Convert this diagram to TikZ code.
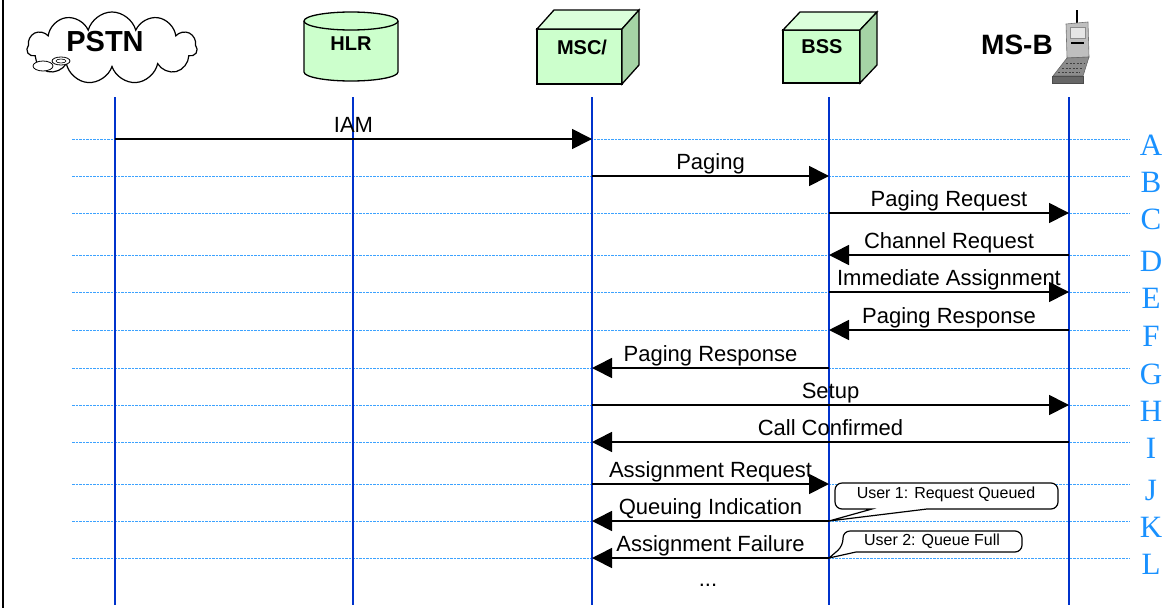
\documentclass[tikz,border=0pt]{standalone}
\usepackage{fontspec}
\setmainfont{Liberation Sans}
\newfontfamily\rowfont{Liberation Serif}
\usetikzlibrary{arrows.meta,shapes.symbols}
\definecolor{lifeblue}{RGB}{0,51,204}
\definecolor{rowblue}{RGB}{25,145,255}
\definecolor{boxgreen}{RGB}{204,255,204}
\definecolor{sidegreen}{RGB}{165,212,165}

\begin{document}
\begin{tikzpicture}[x=1pt,y=-1pt,
		lifeline/.style={line width=1.6pt, color=lifeblue},
		rowline/.style={line width=0.9pt, color=rowblue!85, dash pattern=on 2.5pt off 1pt},
		rowlbl/.style={font=\rowfont\fontsize{31}{33}\selectfont, color=rowblue, inner sep=0pt},
		msg/.style={line width=1.7pt, -{Triangle[length=20pt,width=20pt]}},
		lbl/.style={font=\fontsize{22}{24}\selectfont, midway, anchor=base, yshift=7pt, inner sep=0pt},
		head/.style={font=\bfseries\fontsize{20}{22}\selectfont, inner sep=0pt},
		callout/.style={line width=1.2pt, fill=white},
		calltxt/.style={font=\fontsize{16}{18}\selectfont, inner sep=0pt}]
			%%%%% START %%%%%
			
			\useasboundingbox (0,0) rectangle (1166,608);
			\draw[line width=1.6pt] (3,0) -- (3,608);
			
			%%%%% HEADER %%%%%
			
			\node[cloud, cloud puffs=11, aspect=2.4, draw, line width=1.2pt, minimum width=170pt, minimum height=72pt] (cloud) at (112,48) {};
			\draw[line width=0.8pt, fill=white] (43,66) ellipse [x radius=10, y radius=5];
			\draw[line width=0.8pt, fill=white] (61,61) ellipse [x radius=9, y radius=4];
			\draw[line width=0.6pt] (61,61) ellipse [x radius=5, y radius=2];
			\node[head, font=\bfseries\fontsize{29}{31}\selectfont] (pstn) at (105,42) {PSTN};
			
			\fill[boxgreen] (304,21) -- (304,72) arc[start angle=180, end angle=0, x radius=47, y radius=9] -- (398,21) -- cycle;
			\draw[line width=1.3pt] (304,21) -- (304,72) arc[start angle=180, end angle=0, x radius=47, y radius=9] -- (398,21);
			\draw[line width=1.3pt, fill=boxgreen] (351,21) ellipse [x radius=47, y radius=9];
			\node[head] (hlr) at (351,44) {HLR};
			
			\draw[line width=1.3pt, fill=boxgreen] (537,29) rectangle (622,84);
			\draw[line width=1.3pt, fill=boxgreen!70!white] (537,29) -- (554,10) -- (639,10) -- (622,29) -- cycle;
			\draw[line width=1.3pt, fill=sidegreen] (622,29) -- (639,10) -- (639,65) -- (622,84) -- cycle;
			\node[head] (msc) at (582,47) {MSC/};
			
			\draw[line width=1.3pt, fill=boxgreen] (783,30) rectangle (860,83);
			\draw[line width=1.3pt, fill=boxgreen!70!white] (783,30) -- (800,12) -- (877,12) -- (860,30) -- cycle;
			\draw[line width=1.3pt, fill=sidegreen] (860,30) -- (877,12) -- (877,65) -- (860,83) -- cycle;
			\node[head] (bss) at (822,47) {BSS};
			
			\draw[line width=1.5pt] (1077,10) -- (1077,24);
			\draw[line width=0.6pt, color=black!55, fill=black!25] (1066,24) -- (1088,22) -- (1089,57) -- (1067,58) -- cycle;
			\draw[line width=0.5pt, color=black!45, fill=black!10] (1070,27) rectangle (1085,38);
			\draw[line width=1.5pt] (1071,43) -- (1084,43);
			\draw[line width=0.6pt, color=black!60, fill=black!45] (1067,58) -- (1089,57) -- (1083,76) -- (1053,76) -- cycle;
			\draw[line width=1pt, color=black!75, dash pattern=on 2pt off 1.5pt] (1066,63) -- (1084,63);
			\draw[line width=1pt, color=black!75, dash pattern=on 2pt off 1.5pt] (1062,68) -- (1082,68);
			\draw[line width=1pt, color=black!75, dash pattern=on 2pt off 1.5pt] (1058,72) -- (1080,72);
			\draw[line width=0.6pt, color=black!70, fill=black!60] (1052,76) rectangle (1083,83);
			\node[head, font=\bfseries\fontsize{28}{30}\selectfont] (msb) at (1017,45) {MS-B};
			
			%%%%% ROWS %%%%%
			
			\coordinate (yA) at (72,139);
			\coordinate (yB) at (72,176);
			\coordinate (yC) at (72,213);
			\coordinate (yD) at (72,255);
			\coordinate (yE) at (72,292);
			\coordinate (yF) at (72,330);
			\coordinate (yG) at (72,368);
			\coordinate (yH) at (72,405);
			\coordinate (yI) at (72,442);
			\coordinate (yJ) at (72,484);
			\coordinate (yK) at (72,521);
			\coordinate (yL) at (72,558);
			\coordinate (yEnd) at (72,605);
			
			\draw[rowline] (yA) -- ++(1058,0);
			\draw[rowline] (yB) -- ++(1058,0);
			\draw[rowline] (yC) -- ++(1058,0);
			\draw[rowline] (yD) -- ++(1058,0);
			\draw[rowline] (yE) -- ++(1058,0);
			\draw[rowline] (yF) -- ++(1058,0);
			\draw[rowline] (yG) -- ++(1058,0);
			\draw[rowline] (yH) -- ++(1058,0);
			\draw[rowline] (yI) -- ++(1058,0);
			\draw[rowline] (yJ) -- ++(1058,0);
			\draw[rowline] (yK) -- ++(1058,0);
			\draw[rowline] (yL) -- ++(1058,0);
			
			\node[rowlbl] (rA) at (1151,145) {A};
			\node[rowlbl] (rB) at (1151,182) {B};
			\node[rowlbl] (rC) at (1151,219) {C};
			\node[rowlbl] (rD) at (1151,261) {D};
			\node[rowlbl] (rE) at (1151,298) {E};
			\node[rowlbl] (rF) at (1151,336) {F};
			\node[rowlbl] (rG) at (1151,374) {G};
			\node[rowlbl] (rH) at (1151,411) {H};
			\node[rowlbl] (rI) at (1151,448) {I};
			\node[rowlbl] (rJ) at (1151,490) {J};
			\node[rowlbl] (rK) at (1151,527) {K};
			\node[rowlbl] (rL) at (1151,564) {L};
			
			%%%%% LIFELINES %%%%%
			
			\coordinate (lPSTN) at (115,97);
			\coordinate (lHLR) at (353,97);
			\coordinate (lMSC) at (592,97);
			\coordinate (lBSS) at (829,97);
			\coordinate (lMSB) at (1069,97);
			
			\draw[lifeline] (lPSTN) -- (lPSTN |- yEnd);
			\draw[lifeline] (lHLR) -- (lHLR |- yEnd);
			\draw[lifeline] (lMSC) -- (lMSC |- yEnd);
			\draw[lifeline] (lBSS) -- (lBSS |- yEnd);
			\draw[lifeline] (lMSB) -- (lMSB |- yEnd);
			
			%%%%% MESSAGES %%%%%
			
			\draw[msg] (lPSTN |- yA) -- node[lbl] (tA) {IAM} (lMSC |- yA);
			\draw[msg] (lMSC |- yB) -- node[lbl] (tB) {Paging} (lBSS |- yB);
			\draw[msg] (lBSS |- yC) -- node[lbl] (tC) {Paging Request} (lMSB |- yC);
			\draw[msg] (lMSB |- yD) -- node[lbl] (tD) {Channel Request} (lBSS |- yD);
			\draw[msg] (lBSS |- yE) -- node[lbl] (tE) {Immediate Assignment} (lMSB |- yE);
			\draw[msg] (lMSB |- yF) -- node[lbl] (tF) {Paging Response} (lBSS |- yF);
			\draw[msg] (lBSS |- yG) -- node[lbl] (tG) {Paging Response} (lMSC |- yG);
			\draw[msg] (lMSC |- yH) -- node[lbl] (tH) {Setup} (lMSB |- yH);
			\draw[msg] (lMSB |- yI) -- node[lbl] (tI) {Call Confirmed} (lMSC |- yI);
			\draw[msg] (lMSC |- yJ) -- node[lbl] (tJ) {Assignment Request} (lBSS |- yJ);
			\draw[msg] (lBSS |- yK) -- node[lbl] (tK) {Queuing Indication} (lMSC |- yK);
			\draw[msg] (lBSS |- yL) -- node[lbl] (tL) {Assignment Failure} (lMSC |- yL);
			
			\node[font=\fontsize{22}{24}\selectfont] (dots) at (708,585) {...};
			
			%%%%% CALLOUTS %%%%%
			
			\draw[callout] (927,509) [rounded corners=7pt] -- (1058,509) -- (1058,483) -- (835,483) -- (835,509) [sharp corners] -- (872,509) -- (lBSS |- yK) -- cycle;
			\node[calltxt] (q1) at (946,494) {User 1: Request Queued};
			
			\draw[callout] (856,552) [rounded corners=7pt] -- (1022,552) -- (1022,531) -- (843,531) -- (843,546) [sharp corners] -- (lBSS |- yL) -- cycle;
			\node[calltxt] (q2) at (932,541) {User 2: Queue Full};
			
			%%%%% END %%%%%
		\end{tikzpicture}
\end{document}
